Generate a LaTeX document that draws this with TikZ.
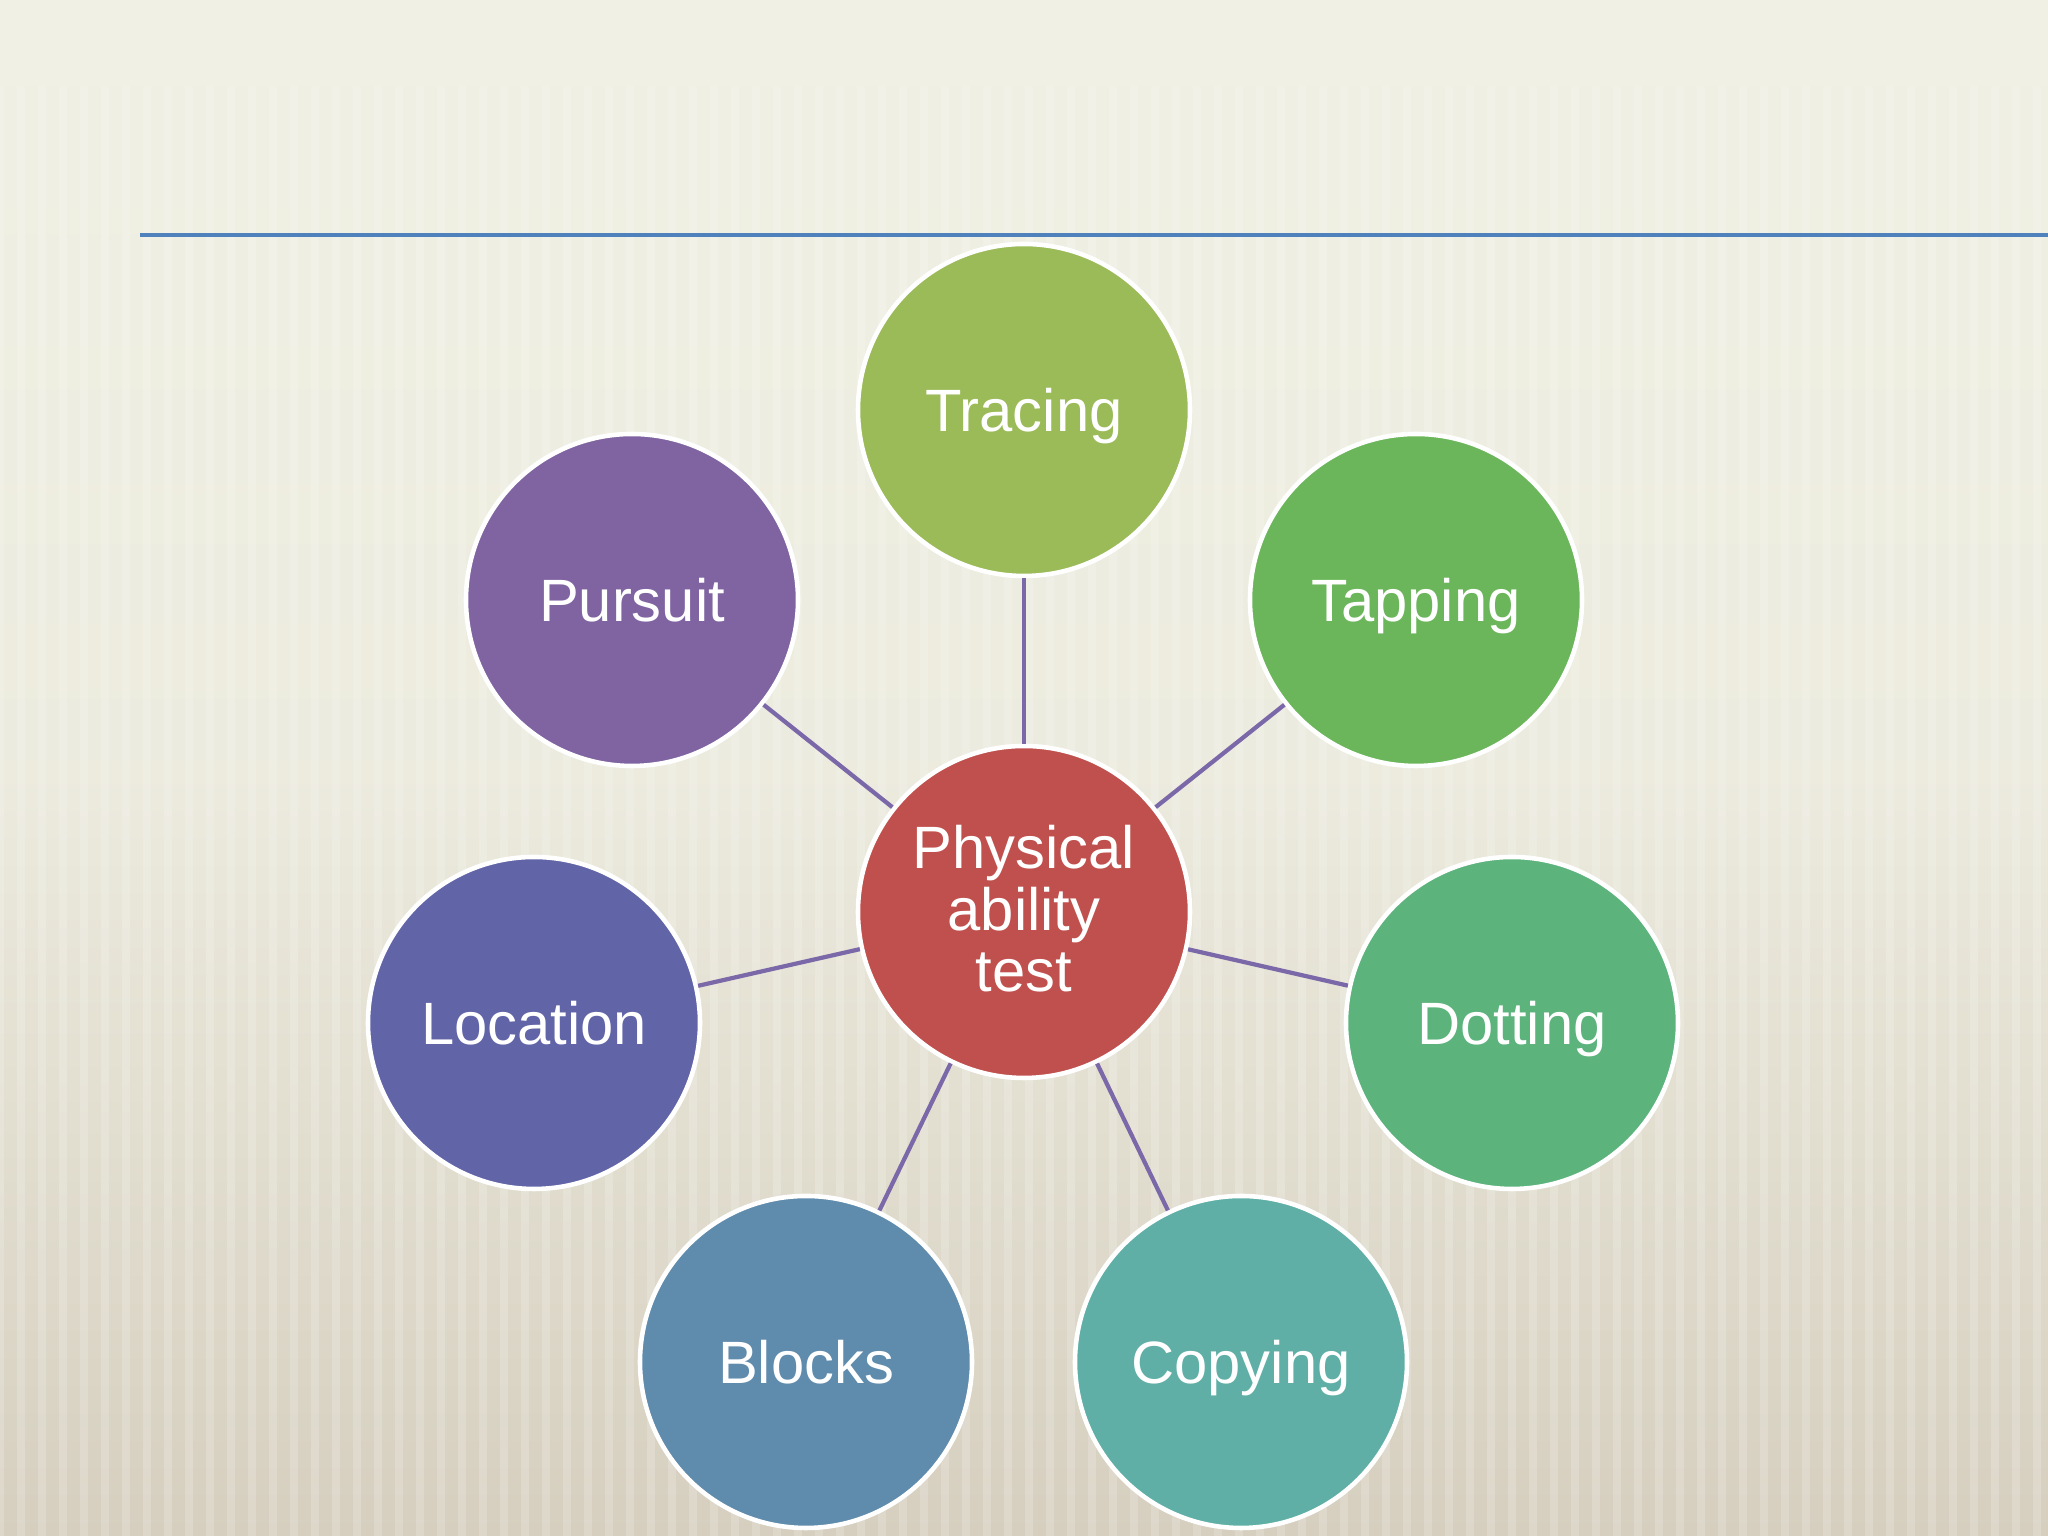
\documentclass[tikz,border=0pt]{standalone}
\usepackage{fontspec}
\setmainfont{Liberation Sans}
\usetikzlibrary{shapes.geometric}
\definecolor{bgtop}{HTML}{F0F0E4}
\definecolor{bgbot}{HTML}{D6CFBF}
\definecolor{rule}{HTML}{4F81BD}
\definecolor{conn}{HTML}{7B68A8}
\definecolor{cCenter}{HTML}{C0504D}
\definecolor{cTracing}{HTML}{9BBB59}
\definecolor{cTapping}{HTML}{6BB65A}
\definecolor{cDotting}{HTML}{5CB37C}
\definecolor{cCopying}{HTML}{5FAFA6}
\definecolor{cBlocks}{HTML}{5F8BAD}
\definecolor{cLocation}{HTML}{6165A8}
\definecolor{cPursuit}{HTML}{8064A2}
\tikzset{
  bubble/.style={circle, draw=white, line width=1.3pt, minimum size=3.32cm, inner sep=0pt,
    text=white, align=center, text depth=0pt, font=\fontsize{17}{17.4}\selectfont},
  link/.style={draw=conn, line width=1.2pt}
}
\begin{document}
\begin{tikzpicture}
\useasboundingbox (0,0) rectangle (20.48,15.36);
\shade[top color=bgtop, bottom color=bgbot, middle color=bgtop!85!bgbot] (0,0) rectangle (20.48,15.36);
\fill[bgtop] (0,14.5) rectangle (20.48,15.36);
\foreach \x in {0,0.21,...,20.5}{
  \draw[white, opacity=0.18, line width=2.5pt] (\x,0) -- (\x,14.5);
}
\draw[rule, line width=0.9pt] (1.4,13.01) -- (20.48,13.01);

\node[bubble, fill=cCenter, text depth=2pt] (center) at (10.24,6.24) {Physical\\ability\\test};
\node[bubble, fill=cTracing] (tracing) at (10.24,11.26) {Tracing};
\node[bubble, fill=cPursuit] (pursuit) at (6.32,9.36) {Pursuit};
\node[bubble, fill=cTapping] (tapping) at (14.16,9.36) {Tapping};
\node[bubble, fill=cLocation] (location) at (5.34,5.13) {Location};
\node[bubble, fill=cDotting] (dotting) at (15.12,5.13) {Dotting};
\node[bubble, fill=cBlocks] (blocks) at (8.06,1.74) {Blocks};
\node[bubble, fill=cCopying] (copying) at (12.41,1.74) {Copying};

\foreach \n in {tracing,pursuit,tapping,location,dotting,blocks,copying}{
  \draw[link] (center) -- (\n);
}
\end{tikzpicture}
\end{document}
